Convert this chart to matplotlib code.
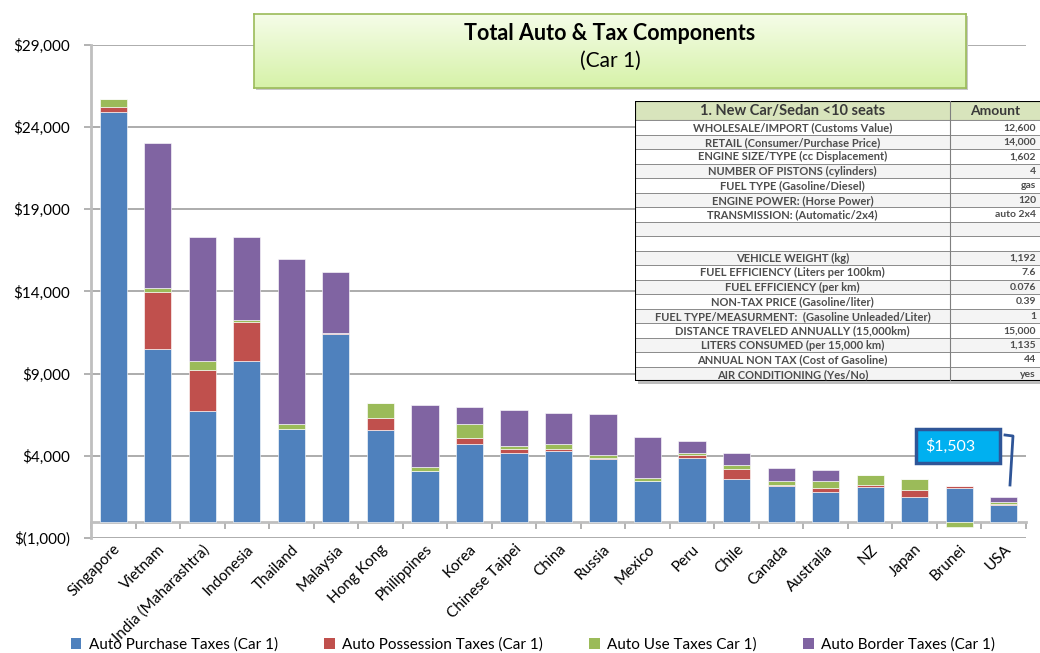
import numpy as np
import matplotlib
matplotlib.use("Agg")
import matplotlib.pyplot as plt
from matplotlib.patches import Rectangle, Patch
from matplotlib.ticker import FuncFormatter

# ---------------- data ----------------
countries = ["Singapore", "Vietnam", "India (Maharashtra)", "Indonesia", "Thailand",
             "Malaysia", "Hong Kong", "Philippines", "Korea", "Chinese Taipei", "China",
             "Russia", "Mexico", "Peru", "Chile", "Canada", "Australia", "NZ", "Japan",
             "Brunei", "USA"]
purchase = [24950, 10480, 6710, 9770, 5620, 11410, 5580, 3060, 4710, 4180, 4320,
            3830, 2480, 3890, 2610, 2150, 1810, 2090, 1520, 2070, 1000]
possession = [260, 3500, 2510, 2390, 30, 40, 730, 0, 380, 230, 120,
              60, 0, 150, 570, 100, 260, 160, 430, 80, 80]
use_tax = [490, 230, 550, 100, 280, 0, 890, 240, 870, 180, 280,
           140, 180, 140, 260, 240, 410, 610, 630, -340, 130]
border = [0, 8800, 7540, 5030, 10060, 3750, 0, 3770, 1000, 2190, 1870,
          2490, 2490, 710, 750, 770, 630, 0, 0, 0, 293]

series_names = ["Auto Purchase Taxes (Car 1)", "Auto Possession Taxes (Car 1)",
                "Auto Use Taxes Car 1)", "Auto Border Taxes (Car 1)"]
series_colors = ["#4F81BD", "#C0504D", "#9BBB59", "#8064A2"]

yticks = [-1000, 4000, 9000, 14000, 19000, 24000, 29000]

title_main = "Total Auto & Tax Components"
title_sub = "(Car 1)"

table_header = ["1. New Car/Sedan <10 seats", "Amount"]
table_labels = ["WHOLESALE/IMPORT (Customs Value)", "RETAIL (Consumer/Purchase Price)",
                "ENGINE SIZE/TYPE (cc Displacement)", "NUMBER OF PISTONS (cylinders)",
                "FUEL TYPE (Gasoline/Diesel)", "ENGINE POWER: (Horse Power)",
                "TRANSMISSION: (Automatic/2x4)", "", "",
                "VEHICLE WEIGHT (kg)", "FUEL EFFICIENCY (Liters per 100km)",
                "FUEL EFFICIENCY (per km)", "NON-TAX PRICE (Gasoline/liter)",
                "FUEL TYPE/MEASURMENT:  (Gasoline Unleaded/Liter)",
                "DISTANCE TRAVELED ANNUALLY (15,000km)", "LITERS CONSUMED (per 15,000 km)",
                "ANNUAL NON TAX (Cost of Gasoline)", "AIR CONDITIONING (Yes/No)"]
table_amounts = ["12,600", "14,000", "1,602", "4", "gas", "120", "auto 2x4", "", "",
                 "1,192", "7.6", "0.076", "0.39", "1", "15,000", "1,135", "44", "yes"]

# ---------------- figure ----------------
W, H = 1040, 653
plt.rcParams['font.family'] = ['Lato', 'DejaVu Sans']
fig = plt.figure(figsize=(W / 100, H / 100), dpi=100)

def fx(px):
    return px / W

def fy(py):
    return 1 - py / H

ax = fig.add_axes([fx(91), fy(538), fx(1026) - fx(91), fy(45) - fy(538)])
ymin, ymax = -1000, 29000
ax.set_ylim(ymin, ymax)
n = len(countries)
x = np.arange(n)
ax.set_xlim(-0.5, n - 0.5)

# gridlines
ax.set_yticks(yticks)
ax.yaxis.grid(True, color="#A6A6A6", linewidth=1.3)
ax.set_axisbelow(True)

# stacked bars (positive and negative stacks)
pos_cum = np.zeros(n)
neg_cum = np.zeros(n)
for vals, color in zip([purchase, possession, use_tax, border], series_colors):
    v = np.array(vals, dtype=float)
    bottoms = np.where(v >= 0, pos_cum, neg_cum)
    ax.bar(x, v, bottom=bottoms, width=0.61, color=color,
           edgecolor=(1, 1, 1, 0.6), linewidth=0.7, zorder=3)
    pos_cum += np.where(v >= 0, v, 0)
    neg_cum += np.where(v < 0, v, 0)

# spines
for s in ["top", "right", "bottom"]:
    ax.spines[s].set_visible(False)
ax.spines["left"].set_color("#BFBFBF")
ax.spines["left"].set_linewidth(2)

def money(v, pos=None):
    if v < 0:
        return "$({:,.0f})".format(-v)
    return "${:,.0f}".format(v)

ax.yaxis.set_major_formatter(FuncFormatter(money))
ax.tick_params(axis="y", direction="out", length=5, width=1.2, color="#A6A6A6",
               labelsize=11, pad=10, labelcolor="#000000")

# category labels
ax.set_xticks(x)
ax.set_xticklabels(countries, rotation=45, ha="right", rotation_mode="anchor",
                   fontsize=11)
ax.tick_params(axis="x", length=0, pad=3)

# zero-line category axis with boundary ticks
zero_frac = (0 - ymin) / (ymax - ymin)
sec = ax.secondary_xaxis(zero_frac)
sec.set_xticks(np.arange(-0.5, n, 1.0))
sec.set_xticklabels([])
sec.tick_params(direction="out", length=5, width=1.2, color="#A6A6A6")
sec.spines["bottom"].set_color("#BFBFBF")
sec.spines["bottom"].set_linewidth(2)

# ---------------- title box ----------------
tx0, tx1, ty0, ty1 = 254, 966, 14, 88
shadow = Rectangle((fx(tx0 + 2), fy(ty1 + 2)), fx(tx1) - fx(tx0), fy(ty0) - fy(ty1),
                   transform=fig.transFigure, facecolor="#C8C8C8", edgecolor="none",
                   zorder=4)
fig.patches.append(shadow)
tax = fig.add_axes([fx(tx0), fy(ty1), fx(tx1) - fx(tx0), fy(ty0) - fy(ty1)], zorder=5)
grad = np.linspace(0, 1, 64).reshape(-1, 1)
c_top = np.array([0.96, 0.99, 0.91])
c_bot = np.array([0.84, 0.95, 0.66])
img = c_top[None, None, :] * (1 - grad[:, :, None]) + c_bot[None, None, :] * grad[:, :, None]
tax.imshow(img, aspect="auto", extent=[0, 1, 0, 1], origin="upper")
tax.set_xticks([])
tax.set_yticks([])
for s in tax.spines.values():
    s.set_color("#9BBB59")
    s.set_linewidth(1.2)
tax.text(0.5, 0.73, title_main, transform=tax.transAxes, ha="center", va="center",
         fontsize=15.5, fontweight="bold", color="#000000")
tax.text(0.5, 0.37, title_sub, transform=tax.transAxes, ha="center", va="center",
         fontsize=15, color="#000000")

# ---------------- embedded table ----------------
tb_x0, tb_x1, tb_y0, tb_y1 = 635, 1040, 101, 381
tsh = Rectangle((fx(tb_x0 + 3), fy(tb_y1 + 3)), fx(tb_x1) - fx(tb_x0), fy(tb_y0) - fy(tb_y1),
                transform=fig.transFigure, facecolor="#BDBDBD", edgecolor="none", zorder=5)
fig.patches.append(tsh)
tab = fig.add_axes([fx(tb_x0), fy(tb_y1), fx(tb_x1) - fx(tb_x0), fy(tb_y0) - fy(tb_y1)],
                   zorder=6)
tab.set_xlim(tb_x0, tb_x1)
tab.set_ylim(tb_y1, tb_y0)
tab.axis("off")
col_split = 950
col2_right = 1095
header_h = 19
row_h = (tb_y1 - tb_y0 - header_h) / len(table_labels)
txt_col = "#4D4D4D"
# header
tab.add_patch(Rectangle((tb_x0, tb_y0), col2_right - tb_x0, header_h,
                        facecolor="#D8E4BC", edgecolor="#7F7F7F", linewidth=0.8))
tab.text((tb_x0 + col_split) / 2, tb_y0 + header_h / 2 + 0.5, table_header[0], ha="center",
         va="center", fontsize=10.5, fontweight="bold", color="#3A3A3A")
tab.text(970, tb_y0 + header_h / 2 + 0.5, table_header[1], ha="left",
         va="center", fontsize=10, fontweight="bold", color="#3A3A3A")
for i, (lab, amt) in enumerate(zip(table_labels, table_amounts)):
    y0 = tb_y0 + header_h + i * row_h
    fc = "#FFFFFF" if i % 2 == 0 else "#F4F4F4"
    tab.add_patch(Rectangle((tb_x0, y0), col2_right - tb_x0, row_h, facecolor=fc,
                            edgecolor="#8C8C8C", linewidth=0.7))
    tab.text((tb_x0 + col_split) / 2, y0 + row_h / 2 + 0.5, lab, ha="center", va="center",
             fontsize=8, fontweight="bold", color=txt_col)
    tab.text(1036, y0 + row_h / 2 + 0.5, amt, ha="right",
             va="center", fontsize=7.5, fontweight="bold", color=txt_col)
tab.plot([col_split, col_split], [tb_y0, tb_y1], color="#7F7F7F", linewidth=0.8)
tab.add_patch(Rectangle((tb_x0, tb_y0), col2_right - tb_x0, tb_y1 - tb_y0,
                        facecolor="none", edgecolor="#000000", linewidth=1.5))

# ---------------- callout for USA total ----------------
usa_total = purchase[-1] + possession[-1] + use_tax[-1] + border[-1]
cx0, cx1, cy0, cy1 = 916, 1000, 429, 463
callout = Rectangle((fx(cx0), fy(cy1)), fx(cx1) - fx(cx0), fy(cy0) - fy(cy1),
                    transform=fig.transFigure, facecolor="#00B0F0", edgecolor="#2F5597",
                    linewidth=2.5, zorder=7)
fig.patches.append(callout)
fig.text(fx(950), fy(446), money(usa_total), ha="center", va="center", fontsize=11.5,
         color="white", zorder=8)
fig.lines.append(plt.Line2D([fx(1005), fx(1013), fx(1010)], [fy(435), fy(436), fy(485)],
                            transform=fig.transFigure, color="#2F5597", linewidth=2,
                            zorder=7))

# ---------------- legend ----------------
handles = [Patch(facecolor=c, edgecolor="none") for c in series_colors]
fig.legend(handles, series_names, loc="center", bbox_to_anchor=(fx(533), fy(645)),
           ncol=4, frameon=False, fontsize=11, handlelength=0.7, handleheight=0.7,
           handletextpad=0.5, columnspacing=3.0)

fig.savefig("out.png", dpi=100)
